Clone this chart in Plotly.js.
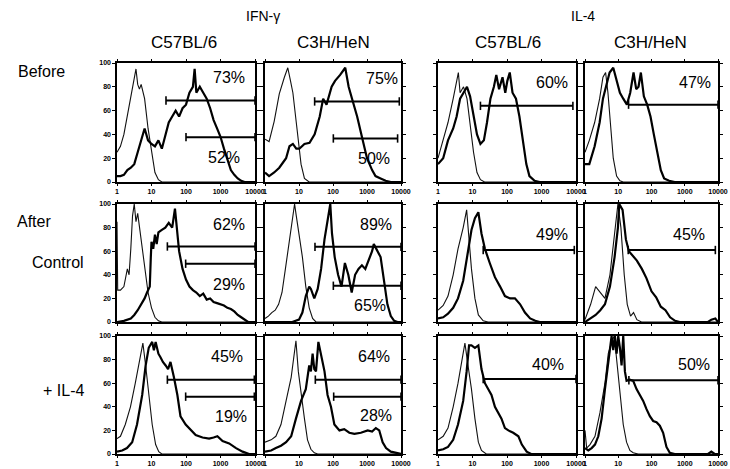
<!DOCTYPE html>
<html><head><meta charset="utf-8">
<script src="https://cdn.plot.ly/plotly-3.0.1.min.js"></script>
<style>body{margin:0;background:#fff}#chart{width:730px;height:469px}</style>
</head><body><div id="chart"></div>
<script>
// x values are log10 of fluorescence intensity (0 = 1, 4 = 10000); y = % of max
const xTickVals = [0, 1, 2, 3, 4];
const xTickText = ['1', '10', '100', '1000', '10000'];
const yTickVals = [0, 20, 40, 60, 80, 100];
const groupNames = ['IFN-γ', 'IL-4'];
const strainNames = ['C57BL/6', 'C3H/HeN', 'C57BL/6', 'C3H/HeN'];
const rowNames = ['Before', 'After', 'Control', '+ IL-4'];

// Row 1: Before
const p1ThinX = [0,0.1,0.2,0.3,0.4,0.5,0.55,0.6,0.65,0.7,0.75,0.8,0.9,1.0,1.1,1.2,1.3,4];
const p1ThinY = [25,30,40,55,70,85,95,82,78,82,76,70,45,25,8,2,0,0];
const p1ThickX = [0,0.1,0.2,0.3,0.4,0.5,0.6,0.7,0.8,0.9,1.0,1.1,1.2,1.3,1.4,1.5,1.6,1.7,1.8,1.9,2.0,2.1,2.2,2.25,2.3,2.4,2.5,2.6,2.7,2.8,2.9,3.0,3.1,3.2,3.3,3.4,3.5,3.6,3.7,4];
const p1ThickY = [5,5,6,10,12,15,25,35,45,35,32,30,35,28,40,50,55,60,55,62,65,75,80,95,75,80,75,70,62,52,45,38,28,18,10,6,3,1,0,0];

const p2ThinX = [0,0.12,0.27,0.42,0.57,0.67,0.75,0.82,0.92,1.06,1.16,1.3,4];
const p2ThinY = [36,34,51,74,88,96,85,75,50,15,3,0,0];
const p2ThickX = [0,0.12,0.27,0.42,0.62,0.72,0.82,0.92,1.01,1.16,1.31,1.46,1.61,1.71,1.81,1.96,2.06,2.21,2.36,2.46,2.56,2.71,2.85,3.0,3.15,3.25,3.4,3.55,3.7,4];
const p2ThickY = [8,5,8,12,20,30,32,28,28,32,33,40,55,70,65,80,85,90,96,80,70,55,38,20,10,5,3,1,0,0];

const p3ThinX = [0,0.15,0.29,0.44,0.54,0.59,0.64,0.74,0.84,0.93,1.03,1.13,1.23,1.35,4];
const p3ThinY = [20,35,50,70,85,92,75,80,70,50,25,8,2,0,0];
const p3ThickX = [0,0.15,0.29,0.44,0.54,0.64,0.74,0.84,0.93,1.03,1.13,1.23,1.33,1.42,1.52,1.62,1.69,1.77,1.87,1.95,2.01,2.08,2.16,2.26,2.36,2.46,2.56,2.65,2.8,2.95,4];
const p3ThickY = [15,20,35,45,55,70,75,80,72,55,40,32,35,50,70,80,90,78,88,75,85,92,75,70,55,35,15,5,1,0,0];

const p4ThinX = [0,0.13,0.29,0.44,0.54,0.62,0.69,0.77,0.85,0.95,1.05,1.15,4];
const p4ThinY = [25,35,50,70,88,92,75,50,20,5,1,0,0];
const p4ThickX = [0,0.13,0.29,0.44,0.54,0.64,0.74,0.85,0.95,1.05,1.15,1.26,1.36,1.46,1.54,1.61,1.68,1.77,1.87,1.97,2.07,2.17,2.28,2.38,2.53,2.7,4];
const p4ThickY = [15,15,30,50,70,82,92,96,85,75,70,65,75,92,78,80,92,72,65,55,40,25,10,3,1,0,0];

// Row 2: After, Control
const p5ThinX = [0,0.02,0.1,0.2,0.3,0.35,0.4,0.45,0.5,0.55,0.6,0.65,0.7,0.8,0.9,1.0,1.1,1.2,1.3,4];
const p5ThinY = [85,27,27,30,45,40,62,90,100,85,92,80,70,45,25,12,4,1,0,0];
const p5ThickX = [0,0.2,0.4,0.5,0.6,0.7,0.8,0.87,0.95,0.98,1.0,1.05,1.1,1.15,1.2,1.3,1.4,1.5,1.6,1.68,1.75,1.8,1.9,2.0,2.1,2.2,2.3,2.4,2.5,2.6,2.7,2.8,2.9,3.0,3.1,3.2,3.3,3.4,3.5,3.6,3.7,3.8,4];
const p5ThickY = [0,1,3,6,10,15,20,25,30,55,68,62,74,66,76,78,80,84,80,96,72,60,45,36,30,27,25,22,24,19,20,17,16,15,14,12,11,9,6,4,2,0,0];

const p6ThinX = [0,0.1,0.2,0.3,0.4,0.5,0.6,0.7,0.8,0.87,0.92,1.0,1.1,1.2,1.3,1.4,1.5,4];
const p6ThinY = [3,5,8,10,15,25,45,65,85,100,90,75,55,30,12,3,0,0];
const p6ThickX = [0,0.8,1.0,1.1,1.2,1.3,1.35,1.45,1.55,1.65,1.75,1.85,1.92,1.97,2.05,2.15,2.25,2.35,2.45,2.55,2.65,2.75,2.85,2.95,3.05,3.15,3.2,3.3,3.4,3.5,3.6,3.7,3.8,3.9,4];
const p6ThickY = [0,0,2,8,22,30,28,20,28,45,70,90,100,75,55,40,30,50,40,25,40,45,48,45,52,60,66,60,55,35,15,5,1,0,0];

const p7ThinX = [0,0.15,0.29,0.44,0.58,0.73,0.83,0.9,0.97,1.07,1.17,1.31,1.45,4];
const p7ThinY = [10,14,22,40,62,80,95,70,45,20,6,1,0,0];
const p7ThickX = [0,0.15,0.29,0.44,0.58,0.73,0.87,0.97,1.07,1.17,1.26,1.36,1.5,1.65,1.8,1.94,2.09,2.23,2.38,2.52,2.67,2.82,2.95,4];
const p7ThickY = [3,4,7,12,20,35,60,78,88,93,75,62,50,38,30,22,20,20,15,8,3,1,0,0];

const p8ThinX = [0,0.17,0.32,0.46,0.6,0.75,0.89,0.99,1.08,1.18,1.27,1.37,1.46,1.56,1.7,4];
const p8ThinY = [2,15,30,25,20,40,75,100,80,40,15,5,8,2,0,0];
const p8ThickX = [0,0.17,0.32,0.46,0.6,0.75,0.89,0.99,1.03,1.13,1.23,1.32,1.42,1.56,1.71,1.85,2.0,2.14,2.28,2.42,2.56,2.71,2.85,3.7,3.8,3.92,4];
const p8ThickY = [0,3,6,10,15,30,55,80,100,95,70,60,57,52,45,37,26,21,13,10,4,1,0,0,2,3,0];

// Row 3: After, + IL-4
const p9ThinX = [0,0.1,0.24,0.39,0.53,0.65,0.75,0.83,0.92,1.02,1.12,1.21,1.3,4];
const p9ThinY = [13,15,25,40,60,80,94,75,50,25,8,2,0,0];
const p9ThickX = [0,0.15,0.29,0.44,0.58,0.73,0.83,0.92,1.02,1.07,1.12,1.2,1.26,1.33,1.41,1.48,1.55,1.6,1.65,1.75,1.84,1.99,2.14,2.28,2.48,2.67,2.8,2.91,3.06,3.25,3.45,3.64,3.83,4];
const p9ThickY = [2,3,5,10,25,50,75,90,95,88,95,85,82,78,75,72,78,70,65,50,32,25,20,16,14,13,14,15,11,9,5,2,0,0];

const p10ThinX = [0,0.18,0.32,0.47,0.62,0.77,0.86,0.91,0.98,1.06,1.16,1.25,1.35,1.45,1.55,4];
const p10ThinY = [10,12,15,25,45,65,85,96,70,50,30,12,4,1,0,0];
const p10ThickX = [0,0.18,0.32,0.47,0.62,0.77,0.91,1.06,1.2,1.3,1.35,1.4,1.45,1.5,1.57,1.65,1.75,1.84,1.94,2.04,2.19,2.33,2.48,2.63,2.82,3.02,3.15,3.26,3.36,3.46,3.56,3.7,3.85,4];
const p10ThickY = [2,3,5,7,10,15,30,45,55,75,70,85,72,70,95,85,70,50,40,25,20,21,18,17,18,20,19,22,20,10,5,2,1,0];

const p11ThinX = [0,0.15,0.29,0.44,0.58,0.73,0.78,0.87,0.97,1.07,1.17,1.26,1.4,4];
const p11ThinY = [12,15,22,40,60,85,94,75,55,30,10,3,0,0];
const p11ThickX = [0,0.15,0.29,0.44,0.58,0.73,0.83,0.9,0.97,1.07,1.17,1.26,1.36,1.46,1.55,1.65,1.75,1.84,1.94,2.04,2.18,2.33,2.43,2.57,2.7,4];
const p11ThickY = [3,4,6,12,25,45,70,92,92,90,92,72,60,55,50,40,35,30,22,20,18,15,8,2,0,0];

const p12ThinX = [0,0.05,0.15,0.3,0.45,0.6,0.7,0.8,0.88,0.95,1.05,1.15,1.25,1.35,1.45,1.6,4];
const p12ThinY = [20,5,8,15,35,60,85,95,100,80,50,25,10,3,1,0,0];
const p12ThickX = [0,0.1,0.2,0.3,0.4,0.5,0.6,0.7,0.8,0.85,0.9,0.95,1.0,1.05,1.1,1.15,1.2,1.25,1.35,1.45,1.55,1.65,1.75,1.85,1.95,2.05,2.15,2.25,2.35,2.45,2.55,2.7,3.7,3.8,3.9,4];
const p12ThickY = [5,3,5,8,15,30,55,80,100,88,100,85,100,90,75,100,70,62,63,62,55,50,45,38,32,28,27,24,18,6,1,0,0,2,0,0];

// Gates (marker bars): panel index, start, end (log10), level (%)
const gatePanel = [0,0,1,1,2,3,4,4,5,5,6,7,8,8,9,9,10,11];
const gateStart = [1.42,2.0,1.46,2.01,1.23,1.31,1.46,1.99,1.47,2.01,1.31,1.3,1.46,1.99,1.48,2.02,1.31,1.32];
const gateEnd   = [4.0,4.0,3.95,3.9,3.91,4.0,4.0,4.0,4.0,4.0,3.95,3.92,3.98,3.98,4.0,4.0,4.0,4.0];
const gateLevel = [68.5,37.7,67.7,36.6,64,65,64,49.4,63.7,30.7,61,61,63,48.6,63,48.6,63.5,62.5];

// Percent labels
const pctPanel = [0,0,1,1,2,3,4,4,5,5,6,7,8,8,9,9,10,11];
const pctText = ['73%','52%','75%','50%','60%','47%','62%','29%','89%','65%','49%','45%','45%','19%','64%','28%','40%','50%'];
const pctX = [3.25,3.1,3.45,3.2,3.29,3.3,3.25,3.25,3.26,3.1,3.3,3.14,3.2,3.3,3.22,3.26,3.2,3.27];
const pctY = [88,21,87,20,84,84,83,32,83,14,74,74,83,32,83,33,76,76];

const thinXs = [p1ThinX,p2ThinX,p3ThinX,p4ThinX,p5ThinX,p6ThinX,p7ThinX,p8ThinX,p9ThinX,p10ThinX,p11ThinX,p12ThinX];
const thinYs = [p1ThinY,p2ThinY,p3ThinY,p4ThinY,p5ThinY,p6ThinY,p7ThinY,p8ThinY,p9ThinY,p10ThinY,p11ThinY,p12ThinY];
const thickXs = [p1ThickX,p2ThickX,p3ThickX,p4ThickX,p5ThickX,p6ThickX,p7ThickX,p8ThickX,p9ThickX,p10ThickX,p11ThickX,p12ThickX];
const thickYs = [p1ThickY,p2ThickY,p3ThickY,p4ThickY,p5ThickY,p6ThickY,p7ThickY,p8ThickY,p9ThickY,p10ThickY,p11ThickY,p12ThickY];

const W = 730, H = 469;
const colDom = [[117/W,255/W],[265/W,401/W],[438/W,576/W],[585/W,718/W]];
const rowDom = [[1-182/H,1-63/H],[1-322/H,1-204/H],[1-454/H,1-336/H]];
const FONT = 'Liberation Sans, Arial, sans-serif';
const tickFont = {family: FONT, size: 7, color: '#000', weight: 'bold'};

const traces = [];
const layout = {
  width: W, height: H, margin: {l:0,r:0,t:0,b:0}, showlegend: false,
  paper_bgcolor: '#fff', plot_bgcolor: '#fff', annotations: []
};
function axName(i){ return i === 0 ? '' : String(i+1); }

for (let i = 0; i < 12; i++) {
  const r = Math.floor(i/4), c = i % 4, n = axName(i);
  const xa = 'x'+n, ya = 'y'+n;
  traces.push({x: thinXs[i], y: thinYs[i], xaxis: xa, yaxis: ya, mode: 'lines',
    line: {color: '#111', width: 1.1}, hoverinfo: 'skip'});
  traces.push({x: thickXs[i], y: thickYs[i], xaxis: xa, yaxis: ya, mode: 'lines',
    line: {color: '#000', width: 2.2}, hoverinfo: 'skip'});
  layout['xaxis'+n] = {domain: colDom[c], anchor: ya, range: [0,4], tickvals: xTickVals, ticktext: xTickText,
    showticklabels: r !== 1, ticks: 'outside', ticklen: 2, tickwidth: 1, tickcolor: '#000',
    ticklabeloverflow: 'allow', ticklabelstandoff: 0,
    showline: true, mirror: 'ticks', linewidth: 1.6, linecolor: '#000', showgrid: false, zeroline: false,
    tickfont: tickFont, fixedrange: true};
  layout['yaxis'+n] = {domain: rowDom[r], anchor: xa, range: [0,100], tickvals: yTickVals,
    showticklabels: c === 0, ticks: 'outside', ticklen: 3, tickwidth: 1, tickcolor: '#000',
    ticklabeloverflow: 'allow',
    showline: true, mirror: 'ticks', linewidth: 1.6, linecolor: '#000', showgrid: false, zeroline: false,
    tickfont: tickFont, fixedrange: true};
}

for (let j = 0; j < gatePanel.length; j++) {
  const n = axName(gatePanel[j]);
  traces.push({x: [gateStart[j], gateEnd[j]], y: [gateLevel[j], gateLevel[j]], xaxis: 'x'+n, yaxis: 'y'+n,
    mode: 'lines+markers', cliponaxis: false, hoverinfo: 'skip',
    line: {color: '#000', width: 2},
    marker: {symbol: 'line-ns-open', size: 6, color: '#000', line: {color: '#000', width: 1.6}}});
}
for (let j = 0; j < pctPanel.length; j++) {
  const n = axName(pctPanel[j]);
  layout.annotations.push({xref: 'x'+n, yref: 'y'+n, x: pctX[j], y: pctY[j], text: pctText[j],
    showarrow: false, font: {family: FONT, size: 16, color: '#000'}});
}

function paperText(text, px, py, size) {
  layout.annotations.push({xref: 'paper', yref: 'paper', x: px/W, y: 1-py/H, text: text,
    showarrow: false, xanchor: 'center', yanchor: 'middle', font: {family: FONT, size: size, color: '#000'}});
}
paperText(groupNames[0], 263, 16, 14);
paperText(groupNames[1], 583, 16, 14);
paperText(strainNames[0], 184, 42, 17);
paperText(strainNames[1], 333, 42, 17);
paperText(strainNames[2], 508, 42, 17);
paperText(strainNames[3], 650, 42, 17);
paperText(rowNames[0], 41, 72, 16);
paperText(rowNames[1], 34, 222, 16);
paperText(rowNames[2], 58, 262, 16);
paperText(rowNames[3], 63, 390, 16);

Plotly.newPlot('chart', traces, layout, {staticPlot: true, displayModeBar: false});
</script>
</body></html>
